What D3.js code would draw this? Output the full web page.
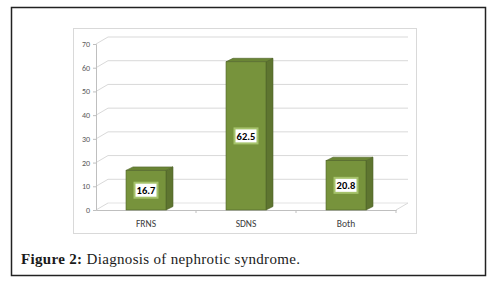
<!DOCTYPE html>
<html>
<head>
<meta charset="utf-8">
<script src="https://cdn.jsdelivr.net/npm/d3@7"></script>
<style>
  body { margin: 0; background: #fff; }
</style>
</head>
<body>
<script>
const categories = ["FRNS", "SDNS", "Both"];
const values = [16.7, 62.5, 20.8];
const yTicks = [0, 10, 20, 30, 40, 50, 60, 70];

const svg = d3.select("body").append("svg")
    .attr("width", 498)
    .attr("height", 282);

// outer figure frame
svg.append("rect")
    .attr("x", 11.5).attr("y", 7.5)
    .attr("width", 474).attr("height", 268)
    .attr("fill", "#fff")
    .attr("stroke", "#222")
    .attr("stroke-width", 1.5);

// chart area frame
svg.append("rect")
    .attr("x", 73.5).attr("y", 28.5)
    .attr("width", 343).attr("height", 205)
    .attr("fill", "#fff")
    .attr("stroke", "#d9d9d9");

// Scales
const y = d3.scaleLinear().domain([0, 70]).range([210, 44]);
const x = d3.scaleBand().domain(categories).range([96, 396]).paddingInner(0.6).paddingOuter(0.3);
const xb = d3.scaleBand().domain(categories).range([96, 396]);

const wall = {dx: 12, dy: -7};
const bar = {dx: 7, dy: -3.5};

const g = svg.append("g");

// back wall gridlines + side wall diagonals
yTicks.forEach((t) => {
    g.append("line")
        .attr("x1", 96 + wall.dx).attr("x2", 396 + wall.dx)
        .attr("y1", y(t) + wall.dy).attr("y2", y(t) + wall.dy)
        .attr("stroke", t === 0 ? "#e3e3e3" : "#d9d9d9");
    g.append("line")
        .attr("x1", 96).attr("x2", 96 + wall.dx)
        .attr("y1", y(t)).attr("y2", y(t) + wall.dy)
        .attr("stroke", "#d9d9d9");
});

// floor right edge
g.append("line")
    .attr("x1", 396).attr("y1", y(0))
    .attr("x2", 396 + wall.dx).attr("y2", y(0) + wall.dy)
    .attr("stroke", "#d9d9d9");

// y axis
const yAxis = g.append("g")
    .attr("transform", "translate(96,0)")
    .call(d3.axisLeft(y).tickValues(yTicks).tickSize(3).tickPadding(3));
yAxis.select(".domain").attr("stroke", "#bfbfbf");
yAxis.selectAll("line").attr("stroke", "#bfbfbf");
yAxis.selectAll("text")
    .attr("fill", "#595959")
    .style("font-family", "Carlito, 'Liberation Sans', Arial, sans-serif")
    .style("font-size", "8px");

// x axis
const xAxis = g.append("g")
    .attr("transform", `translate(0,${y(0)})`)
    .call(d3.axisBottom(xb).tickSize(0).tickPadding(10));
xAxis.select(".domain").attr("stroke", "#bfbfbf");
xAxis.selectAll("text")
    .attr("fill", "#404040")
    .style("font-family", "Carlito, 'Liberation Sans', Arial, sans-serif")
    .style("font-size", "9.5px");
// category separators
categories.forEach((c) => {
    g.append("line")
        .attr("x1", xb(c) + xb.bandwidth()).attr("x2", xb(c) + xb.bandwidth())
        .attr("y1", y(0)).attr("y2", y(0) + 3)
        .attr("stroke", "#bfbfbf");
});

// 3D bars
const bars = g.selectAll(".bar").data(values.map((v, i) => ({cat: categories[i], v: v})))
    .enter().append("g").attr("class", "bar");

bars.append("path")   // side face
    .attr("d", (d) => {
        const x1 = x(d.cat) + x.bandwidth();
        return `M${x1},${y(d.v)} L${x1 + bar.dx},${y(d.v) + bar.dy} L${x1 + bar.dx},${y(0) + bar.dy} L${x1},${y(0)} Z`;
    })
    .attr("fill", "#5e7530")
    .attr("stroke", "#4f6328").attr("stroke-width", 0.6);

bars.append("path")   // top face
    .attr("d", (d) => {
        const x0 = x(d.cat), x1 = x0 + x.bandwidth();
        return `M${x0},${y(d.v)} L${x0 + bar.dx},${y(d.v) + bar.dy} L${x1 + bar.dx},${y(d.v) + bar.dy} L${x1},${y(d.v)} Z`;
    })
    .attr("fill", "#6a8535")
    .attr("stroke", "#4f6328").attr("stroke-width", 0.6);

bars.append("rect")   // front face
    .attr("x", (d) => x(d.cat))
    .attr("y", (d) => y(d.v))
    .attr("width", x.bandwidth())
    .attr("height", (d) => y(0) - y(d.v))
    .attr("fill", "#77933c")
    .attr("stroke", "#4f6328").attr("stroke-width", 0.6);

// data labels
const lab = bars.append("g")
    .attr("transform", (d) => `translate(${x(d.cat) + x.bandwidth() / 2},${(y(d.v) + y(0)) / 2})`);
lab.append("rect")
    .attr("x", -11.5).attr("y", -7.5)
    .attr("width", 23).attr("height", 15)
    .attr("fill", "#fff")
    .attr("stroke", "#a5c26b")
    .attr("stroke-width", 2);
lab.append("text")
    .attr("text-anchor", "middle")
    .attr("dy", "0.36em")
    .attr("fill", "#000")
    .style("font-family", "Carlito, 'Liberation Sans', Arial, sans-serif")
    .style("font-weight", "bold")
    .style("font-size", "10.5px")
    .text((d) => d.v);

// caption
const cap = svg.append("text")
    .attr("x", 21)
    .attr("y", 264)
    .attr("fill", "#1a1a1a")
    .attr("textLength", 279)
    .attr("lengthAdjust", "spacing")
    .style("font-family", "'Liberation Serif', 'DejaVu Serif', serif")
    .style("font-size", "15px");
cap.append("tspan").style("font-weight", "bold").text("Figure 2:");
cap.append("tspan").text(" Diagnosis of nephrotic syndrome.");
</script>
</body>
</html>
